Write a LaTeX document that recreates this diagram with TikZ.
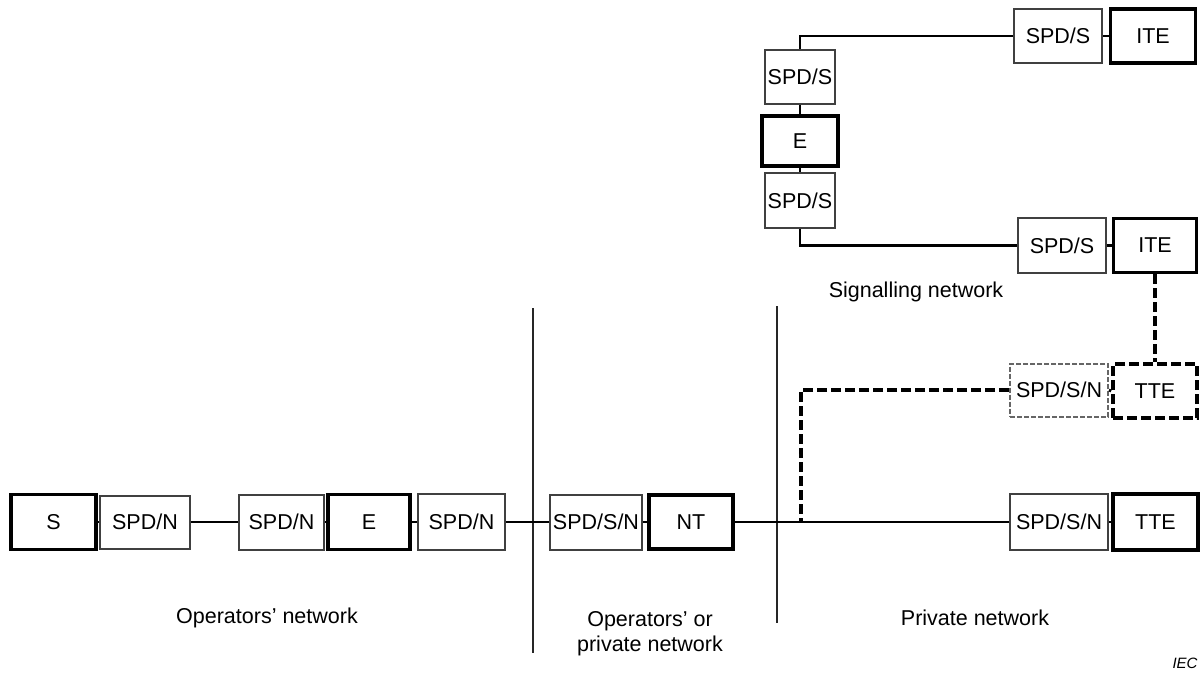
\documentclass[tikz,border=0pt]{standalone}
\usepackage{fontspec}
\setmainfont{Liberation Sans}
\begin{document}
\begin{tikzpicture}[x=1pt,y=-1pt,
  lbl/.style={font=\fontsize{21.5}{25}\selectfont, inner sep=0pt},
  thinbox/.style={lbl, draw=black!75, line width=2pt, fill=white},
  thickbox/.style={lbl, draw=black, line width=3.6pt, fill=white},
  thindash/.style={thinbox, draw=black!60, dash pattern=on 5pt off 2pt},
  thickdash/.style={thickbox, dash pattern=on 10pt off 4pt},
  wire/.style={line width=2.8pt, draw=black},
  dwire/.style={line width=3.2pt, draw=black, dash pattern=on 10pt off 4pt},
  divider/.style={line width=2pt, draw=black!85}]
\useasboundingbox (0,0) rectangle (1202,675);

% signalling network (top right)
\node[thinbox, minimum width=88, minimum height=54] (ssA) at (1058,36) {SPD/S};
\node[thickbox, minimum width=85, minimum height=54] (iteA) at (1153,36) {ITE};
\node[thinbox, minimum width=70, minimum height=54] (ssB) at (800,77) {SPD/S};
\node[thickbox, minimum width=76, minimum height=50] (eA) at (800,141) {E};
\node[thinbox, minimum width=70, minimum height=55] (ssC) at (800,200.5) {SPD/S};
\node[thinbox, minimum width=88, minimum height=55] (ssD) at (1062,245.5) {SPD/S};
\node[thickbox, minimum width=83, minimum height=54] (iteB) at (1155,245.5) {ITE};
\node[lbl] (sig) at (916,292) {Signalling network};

% optional terminal (dashed)
\node[thindash, minimum width=98, minimum height=53] (ssnA) at (1059,390) {SPD/S/N};
\node[thickdash, minimum width=84, minimum height=54] (tteA) at (1155,391) {TTE};

% main line
\node[thickbox, minimum width=85, minimum height=55] (s) at (53.5,522) {S};
\node[thinbox, minimum width=90, minimum height=53] (spdnA) at (145,522) {SPD/N};
\node[thinbox, minimum width=85, minimum height=55] (spdnB) at (281.5,522) {SPD/N};
\node[thickbox, minimum width=82, minimum height=55] (eB) at (369,522) {E};
\node[thinbox, minimum width=87, minimum height=56] (spdnC) at (461.5,522) {SPD/N};
\node[thinbox, minimum width=92, minimum height=55] (ssnB) at (596,522) {SPD/S/N};
\node[thickbox, minimum width=84, minimum height=54] (nt) at (691,522) {NT};
\node[thinbox, minimum width=98, minimum height=56] (ssnC) at (1059,522) {SPD/S/N};
\node[thickbox, minimum width=85, minimum height=56] (tteB) at (1155.5,522) {TTE};

% region dividers
\coordinate (dAt) at (533,308);
\coordinate (dAb) at (533,653);
\coordinate (dBt) at (777,306);
\coordinate (dBb) at (777,623);
\draw[divider] (dAt) -- (dAb);
\draw[divider] (dBt) -- (dBb);

% signalling wiring
\draw[wire] (ssA.east) -- (iteA.west);
\draw[wire] (ssA.west) -| (ssB.north);
\draw[wire] (ssB.south) -- (eA.north);
\draw[wire] (eA.south) -- (ssC.north);
\draw[wire] (ssC.south) |- (ssD.west);
\draw[wire] (ssD.east) -- (iteB.west);
\draw[dwire] (iteB.south) -- (tteA.north);
\draw[wire] (ssnA.east) -- (tteA.west);

% main wiring
\draw[wire] (s.east) -- (spdnA.west);
\draw[wire] (spdnA.east) -- (spdnB.west);
\draw[wire] (spdnB.east) -- (eB.west);
\draw[wire] (eB.east) -- (spdnC.west);
\draw[wire] (spdnC.east) -- (ssnB.west);
\draw[wire] (ssnB.east) -- (nt.west);
\draw[wire] (nt.east) -- (ssnC.west);
\draw[wire] (ssnC.east) -- (tteB.west);

% dashed branch to the optional terminal
\coordinate (br) at (801,522);
\draw[dwire] (ssnA.west) -| (br);

% region labels
\node[lbl] (opn) at (267,618) {Operators’ network};
\node[lbl, align=center] (opp) at (650,634) {Operators’ or\\private network};
\node[lbl] (pn) at (975,618) {Private network};
\node[font=\itshape\fontsize{15}{18}\selectfont, inner sep=0pt] (iec) at (1185,663) {IEC};
\end{tikzpicture}
\end{document}
